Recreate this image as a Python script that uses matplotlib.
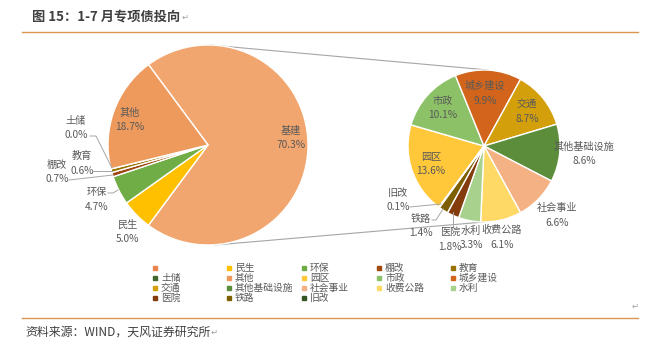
import matplotlib.pyplot as plt

plt.rcParams['font.family'] = ['Noto Sans CJK SC', 'DejaVu Sans']

# 左侧饼图：1-7 月专项债投向（%）
main_labels = ['基建', '民生', '环保', '棚改', '教育', '土储', '其他']
main_values = [70.3, 5.0, 4.7, 0.7, 0.6, 0.0, 18.7]
main_colors = ['#F2A66F', '#FFC000', '#70AD47', '#9E480E', '#997300', '#43682B', '#EE9A5D']

# 右侧饼图：基建细分（%）
sub_labels = ['园区', '市政', '城乡建设', '交通', '其他基础设施', '社会事业',
              '收费公路', '水利', '医院', '铁路', '旧改']
sub_values = [13.6, 10.1, 9.9, 8.7, 8.6, 6.6, 6.1, 3.3, 1.8, 1.4, 0.1]
sub_colors = ['#FFC83A', '#8CC168', '#D2651B', '#D3A00C', '#5B8D3A', '#F4B183',
              '#FFD966', '#A9D18E', '#843C0C', '#7F6000', '#375623']

W, H = 658, 351
txt = '#595959'

fig = plt.figure(figsize=(W / 100, H / 100), dpi=100)
ax = fig.add_axes([0, 0, 1, 1])

c1, r1 = (208, H - 145), 100
c2, r2 = (484, H - 146), 76

ax.pie(main_values, colors=main_colors, center=c1, radius=r1, startangle=126.5,
       counterclock=False, wedgeprops=dict(edgecolor='white', linewidth=1))
ax.pie(sub_values, colors=sub_colors, center=c2, radius=r2, startangle=233.6,
       counterclock=False, wedgeprops=dict(edgecolor='white', linewidth=1))

ax.set_xlim(0, W)
ax.set_ylim(0, H)
ax.axis('off')

# 连接线
ax.plot([c1[0] + 2, c2[0] + 4], [c1[1] + r1, c2[1] + r2], color='#A6A6A6', lw=0.8, zorder=0)
ax.plot([c1[0] + 7, c2[0]], [c1[1] - r1, c2[1] - r2], color='#A6A6A6', lw=0.8, zorder=0)

# 数据标签位置（像素）
label_pos = {
    '基建': (291, 131), '民生': (127, 225), '环保': (97, 192), '棚改': (57, 165),
    '教育': (82, 156), '土储': (76, 121), '其他': (130, 113),
    '园区': (431, 157), '市政': (443, 101), '城乡建设': (485, 86), '交通': (527, 104),
    '其他基础设施': (584, 147), '社会事业': (557, 208), '收费公路': (502, 230),
    '水利': (471, 231), '医院': (450, 232), '铁路': (421, 219), '旧改': (398, 193),
}
for names, vals in [(main_labels, main_values), (sub_labels, sub_values)]:
    for n, v in zip(names, vals):
        x, y = label_pos[n]
        ax.text(x, H - y, n, ha='center', va='center', fontsize=7.3, color=txt)
        ax.text(x, H - y - 14.5, f'{v:.1f}%', ha='center', va='center', fontsize=7.3, color=txt)

# 引导线
leaders = [
    [(90, 136), (96, 136), (112, 168)],
    [(93, 171), (112, 171)],
    [(69, 180), (113, 175)],
    [(108, 193), (113, 193), (118, 190)],
    [(410, 207), (441, 204)],
    [(432, 220), (436, 220), (443, 209)],
    [(453, 227), (453, 212)],
]
for pts in leaders:
    ax.plot([p[0] for p in pts], [H - p[1] for p in pts], color='#A6A6A6', lw=0.7)

# 图例（按行排列，5 列）
leg_labels = [''] + main_labels[1:] + sub_labels
leg_colors = ['#E8844E'] + main_colors[1:] + sub_colors
col_x = [155, 229, 304, 379, 453]
row_y = [268, 278, 288, 298]
for i, (lab, col) in enumerate(zip(leg_labels, leg_colors)):
    x = col_x[i % 5]
    y = H - row_y[i // 5]
    ax.plot([x], [y], marker='s', markersize=3, color=col, linestyle='none')
    ax.text(x + 6, y, lab, ha='left', va='center', fontsize=7, color=txt)

# 标题与来源
fig.text(32 / W, 1 - 16 / H, '图 15：1-7 月专项债投向', fontsize=9.5, fontweight='bold',
         color='#404040', ha='left', va='center')
fig.text(182 / W, 1 - 17 / H, '↵', fontsize=6, color='#A0A0A0', ha='left', va='center')
ax.plot([22, 638], [H - 32, H - 32], color='#D9964F', lw=1)
ax.plot([22, 638], [H - 318, H - 318], color='#D9964F', lw=1)
fig.text(632 / W, 1 - 306 / H, '↵', fontsize=6, color='#A0A0A0', ha='left', va='center')
fig.text(25 / W, 1 - 332 / H, '资料来源：WIND，天风证券研究所', fontsize=8.6,
         color='#404040', ha='left', va='center')
fig.text(211 / W, 1 - 332 / H, '↵', fontsize=6, color='#A0A0A0', ha='left', va='center')

fig.savefig('out.png', dpi=100)
